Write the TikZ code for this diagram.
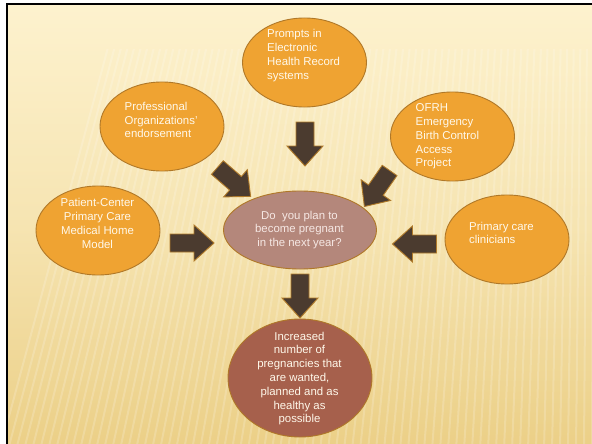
\documentclass[tikz,border=0pt]{standalone}
\usepackage{fontspec}
\setmainfont{Liberation Sans}
\usetikzlibrary{shapes.geometric}
\definecolor{bgtop}{HTML}{FDF2CE}
\definecolor{bgbot}{HTML}{EBCF86}
\definecolor{satfill}{HTML}{EFA332}
\definecolor{satline}{HTML}{B07828}
\definecolor{cenfill}{HTML}{B4877B}
\definecolor{botfill}{HTML}{A6604C}
\definecolor{arrfill}{HTML}{4B3B2F}
\definecolor{arrline}{HTML}{B07A2A}
\definecolor{txtcol}{HTML}{FFF8EA}
\definecolor{centxt}{HTML}{F6E8E4}
\begin{document}
\begin{tikzpicture}[x=1pt,y=-1pt,
  sat/.style={ellipse, draw=satline, line width=0.9pt, fill=satfill, minimum width=124pt, minimum height=89pt, inner sep=0pt},
  cen/.style={ellipse, draw=satline, line width=0.9pt, fill=cenfill, minimum width=153pt, minimum height=78pt, inner sep=0pt},
  bot/.style={ellipse, draw=satline, line width=0.9pt, fill=botfill, minimum width=144pt, minimum height=118pt, inner sep=0pt},
  lbl/.style={text=txtcol, inner sep=0pt, font=\fontsize{11.4}{13.8}\selectfont},
  barrow/.pic={\path[fill=arrfill, draw=arrline, line width=0.9pt, line join=miter]
     (-22,-9) -- (2,-9) -- (2,-18) -- (22,0) -- (2,18) -- (2,9) -- (-22,9) -- cycle;}
]
\useasboundingbox (0,0) rectangle (592,444);
\fill[white] (0,0) rectangle (592,444);
\shade[top color=bgtop, bottom color=bgbot, middle color=bgtop!60!bgbot] (7,4) rectangle (600,450);
% faint stripes
\begin{scope}
\clip (7,50) rectangle (600,450);
\foreach \i in {0,...,75}{
  \pgfmathsetmacro{\xa}{\i*8}
  \pgfmathsetmacro{\dx}{110*(1-\i/75)}
  \draw[white, opacity=0.18, line width=2pt] (\xa,450) -- (\xa+\dx,40);
}
\end{scope}
\draw[black, line width=2pt] (7,450) -- (7,4) -- (600,4);

% ellipses
\node[sat] (prompts) at (304.5,62.5) {};
\node[sat] (prof) at (162,126.5) {};
\node[sat] (ofrh) at (452.5,136.5) {};
\node[sat] (pcmh) at (98,230.5) {};
\node[sat] (pcc) at (507,239.5) {};
\node[cen] (plan) at (300,230) {};
\node[bot] (outcome) at (300,378) {};

% texts
\node[lbl, anchor=west, align=left] (tprompts) at (267,55.5) {Prompts in\\Electronic\\Health Record\\systems};
\node[lbl, anchor=west, align=left] (tprof) at (124.5,120) {Professional\\Organizations'\\endorsement};
\node[lbl, anchor=west, align=left] (tofrh) at (415.5,136.5) {OFRH\\Emergency\\Birth Control\\Access\\Project};
\node[lbl, align=center] (tpcmh) at (97.5,223.5) {Patient-Center\\Primary Care\\Medical Home\\Model};
\node[lbl, anchor=west, align=left] (tpcc) at (469,233) {Primary care\\clinicians};
\node[lbl, align=center, text=centxt] (tplan) at (299.5,230) {Do\ \ you plan to\\become pregnant\\in the next year?};
\node[lbl, align=center] (toutcome) at (299.5,378.5) {Increased\\number of\\pregnancies that\\are wanted,\\planned and as\\healthy as\\possible};

% block arrows
\pic[rotate=-90] (a1) at (305,144) {barrow};
\pic[rotate=-41] (a2) at (234,182) {barrow};
\pic[rotate=-125] (a3) at (377,188.5) {barrow};
\pic (a4) at (192,243) {barrow};
\pic[rotate=180] (a5) at (414.5,244) {barrow};
\pic[rotate=-90] (a6) at (300,296) {barrow};
\end{tikzpicture}
\end{document}
